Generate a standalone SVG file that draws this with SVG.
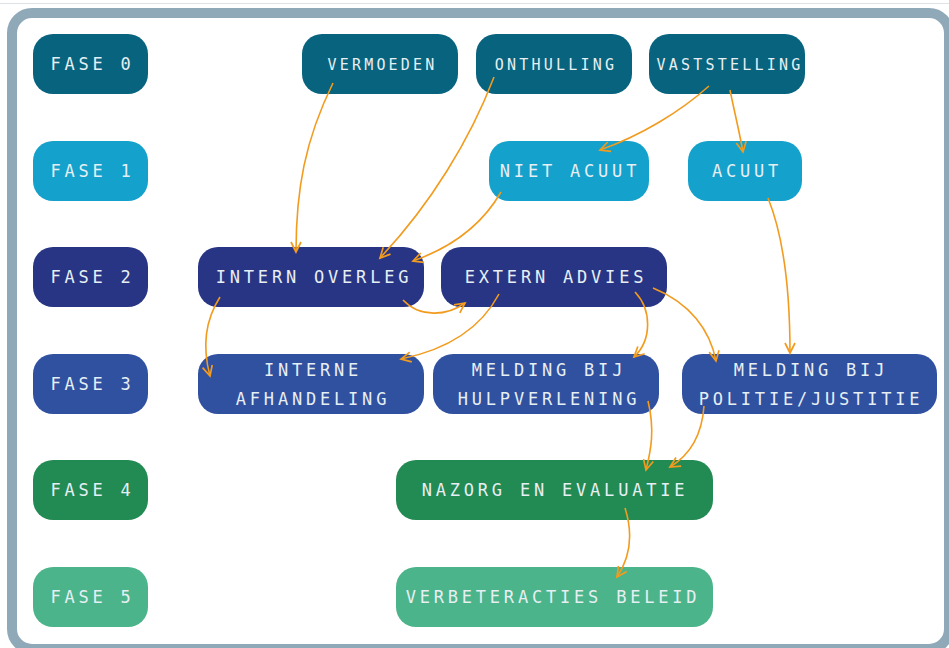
<svg xmlns="http://www.w3.org/2000/svg" width="949" height="648" viewBox="0 0 949 648">
<defs>
<style>
.n rect{rx:20px;ry:20px}
.r0{fill:#07637E}.r1{fill:#14A1CC}.r2{fill:#283584}.r3{fill:#3050A0}.r4{fill:#228A53}.r5{fill:#4BB48A}
text{font-family:"DejaVu Sans Mono","Liberation Mono",monospace;font-size:17px;letter-spacing:3.8px;fill:#E6EFF3;text-anchor:middle}
text.s{font-size:15px;letter-spacing:3.2px}
.c path{fill:none;stroke:#F29B1E;stroke-width:1.6;marker-end:url(#ah)}
</style>
<marker id="ah" markerUnits="userSpaceOnUse" markerWidth="14" markerHeight="14" viewBox="-11 -7 13 14" refX="0" refY="0" orient="auto">
<path d="M-10,-5 L0,0 L-10,5" fill="none" stroke="#F29B1E" stroke-width="1.7"/>
</marker>
</defs>
<rect width="949" height="648" fill="#fff"/>
<line x1="0" y1="3.5" x2="949" y2="3.5" stroke="#DDE2E6" stroke-width="1"/>
<rect x="12" y="13" width="937" height="636" rx="20" fill="#fff" stroke="#90A9B8" stroke-width="10"/>

<g id="fase0" class="n"><rect class="r0" x="33" y="34" width="115" height="60"/><text x="92.5" y="70">FASE 0</text></g>
<g id="fase1" class="n"><rect class="r1" x="33" y="141" width="115" height="60"/><text x="92.5" y="177">FASE 1</text></g>
<g id="fase2" class="n"><rect class="r2" x="33" y="247" width="115" height="60"/><text x="92.5" y="283">FASE 2</text></g>
<g id="fase3" class="n"><rect class="r3" x="33" y="354" width="115" height="60"/><text x="92.5" y="390">FASE 3</text></g>
<g id="fase4" class="n"><rect class="r4" x="33" y="460" width="115" height="60"/><text x="92.5" y="496">FASE 4</text></g>
<g id="fase5" class="n"><rect class="r5" x="33" y="567" width="115" height="60"/><text x="92.5" y="603">FASE 5</text></g>

<g id="vermoeden" class="n"><rect class="r0" x="302" y="34" width="156" height="60"/><text class="s" x="382.5" y="70">VERMOEDEN</text></g>
<g id="onthulling" class="n"><rect class="r0" x="476" y="34" width="156" height="60"/><text class="s" x="556" y="70">ONTHULLING</text></g>
<g id="vaststelling" class="n"><rect class="r0" x="649" y="34" width="156" height="60"/><text class="s" x="730" y="70">VASTSTELLING</text></g>

<g id="nietacuut" class="n"><rect class="r1" x="489" y="141" width="160" height="60"/><text x="570" y="177">NIET ACUUT</text></g>
<g id="acuut" class="n"><rect class="r1" x="688" y="141" width="114" height="60"/><text x="747" y="177">ACUUT</text></g>

<g id="internoverleg" class="n"><rect class="r2" x="198" y="247" width="226" height="60"/><text x="314" y="283">INTERN OVERLEG</text></g>
<g id="externadvies" class="n"><rect class="r2" x="441" y="247" width="226" height="60"/><text x="556" y="283">EXTERN ADVIES</text></g>

<g id="interneafhandeling" class="n"><rect class="r3" x="198" y="354" width="226" height="60"/><text x="313" y="376">INTERNE</text><text x="313" y="404.5">AFHANDELING</text></g>
<g id="hulpverlening" class="n"><rect class="r3" x="433" y="354" width="226" height="60"/><text x="549" y="376">MELDING BIJ</text><text x="549" y="404.5">HULPVERLENING</text></g>
<g id="politie" class="n"><rect class="r3" x="682" y="354" width="255" height="60"/><text x="811" y="376">MELDING BIJ</text><text x="811" y="404.5">POLITIE/JUSTITIE</text></g>

<g id="nazorg" class="n"><rect class="r4" x="396" y="460" width="317" height="60"/><text x="555" y="496">NAZORG EN EVALUATIE</text></g>
<g id="verbeteracties" class="n"><rect class="r5" x="396" y="567" width="317" height="60"/><text x="553" y="603">VERBETERACTIES BELEID</text></g>

<g id="connectors" class="c">
<path d="M333,83 C305,140 296,190 296,252"/>
<path d="M494,77 C470,140 430,205 380,258"/>
<path d="M709,86 C680,112 640,136 600,150"/>
<path d="M730,90 C734,110 739,130 743,152"/>
<path d="M501,192 C482,225 450,248 413,261"/>
<path d="M768,198 C785,240 790,300 790,353"/>
<path d="M220,297 C204,322 203,350 210,376"/>
<path d="M403,300 C420,318 447,316 465,303"/>
<path d="M499,294 C480,330 445,350 401,359"/>
<path d="M635,292 C652,310 652,340 634,357"/>
<path d="M653,288 C690,303 710,330 716,361"/>
<path d="M648,401 C655,430 651,450 646,470"/>
<path d="M704,406 C702,435 690,455 670,467"/>
<path d="M625,508 C633,533 631,556 617,577"/>
</g>
</svg>
